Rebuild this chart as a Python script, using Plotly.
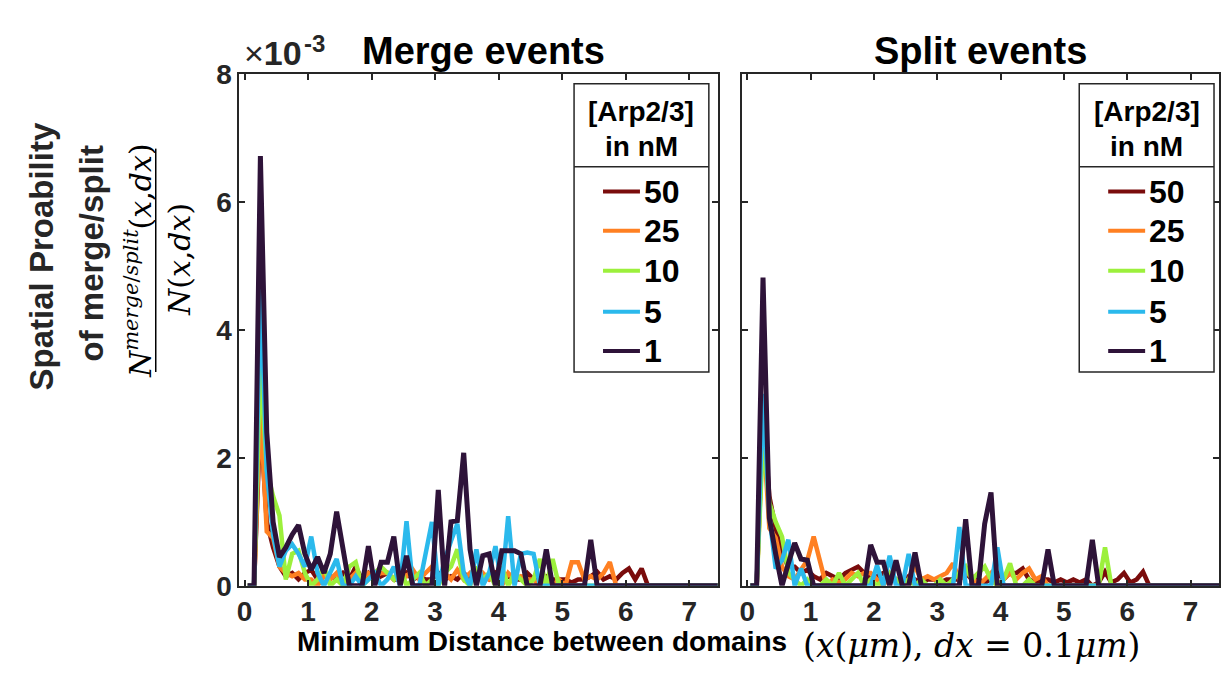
import numpy as np
import plotly.graph_objects as go

W, H = 1225, 682

# ---------------- data (probabilities in units of 1e-3) ----------------
# bin centres of the minimum distance, dx = 0.1 um
distance_um = np.round(0.05 + 0.1 * np.arange(75), 2)

concentrations = ["50", "25", "10", "5", "1"]          # [Arp2/3] in nM
colors = ["#7A0C0C", "#FF8022", "#9CF03C", "#2BB9EC", "#2E1339"]

merge_50nM = [0, 0, 2.6, 1.0, 0.6, 0.3, 0.15, 0.2, 0.1, 0.2,
              0.25, 0.1, 0.2, 0.15, 0.1, 0.2, 0.1, 0.3, 0.1, 0.2,
              0.1, 0.15, 0.2, 0.1, 0.1, 0.2, 0.1, 0.15, 0.1, 0.1,
              0.2, 0.1, 0.15, 0.1, 0.2, 0.1, 0.1, 0.15, 0.1, 0.2,
              0.1, 0.15, 0.1, 0.1, 0.2, 0.1, 0.1, 0.15, 0.1, 0.1,
              0.1, 0.05, 0.1, 0.1, 0.15, 0.22, 0.1, 0.15, 0.1, 0.2,
              0.27, 0.1, 0.27, 0, 0, 0, 0, 0, 0, 0,
              0, 0, 0, 0, 0]
merge_25nM = [0, 0, 2.8, 0.85, 0.75, 0.3, 0.2, 0.15, 0.2, 0.1,
              0.1, 0, 0.15, 0.1, 0.2, 0, 0.1, 0.2, 0.1, 0.2,
              0.15, 0.2, 0.2, 0.1, 0.2, 0.15, 0.25, 0.1, 0.2, 0.3,
              0.15, 0.2, 0.1, 0.25, 0.1, 0.2, 0.1, 0.2, 0.1, 0.15,
              0, 0.2, 0.1, 0.15, 0.1, 0.1, 0, 0.1, 0, 0.1,
              0, 0.37, 0.37, 0.1, 0.15, 0.1, 0.2, 0.37, 0, 0,
              0, 0, 0, 0, 0, 0, 0, 0, 0, 0,
              0, 0, 0, 0, 0]
merge_10nM = [0, 0, 3.5, 1.8, 1.4, 1.1, 0.1, 0.5, 0.55, 0.2,
              0, 0.1, 0.3, 0, 0.1, 0, 0.3, 0.37, 0, 0.1,
              0.2, 0.3, 0.2, 0.1, 0.3, 0, 0.1, 0.2, 0, 0.1,
              0, 0.2, 0.3, 0.57, 0.1, 0, 0.3, 0.1, 0.2, 0,
              0.3, 0, 0.2, 0.1, 0, 0.1, 0.42, 0, 0.42, 0,
              0, 0, 0, 0, 0, 0, 0, 0, 0, 0,
              0, 0, 0, 0, 0, 0, 0, 0, 0, 0,
              0, 0, 0, 0, 0]
merge_5nM = [0, 0, 4.7, 1.8, 0.8, 0.3, 0.55, 0.65, 0.5, 0.3,
             0.77, 0.2, 0, 0.2, 0.42, 0, 0, 0.15, 0, 0.1,
             0.2, 0, 0.1, 0.3, 0, 1.01, 0, 0, 0.5, 1.0,
             0, 0.4, 0.7, 0.97, 0.2, 0, 0.57, 0, 0.2, 0.62,
             0, 1.09, 0, 0.5, 0.52, 0.5, 0, 0, 0, 0,
             0, 0, 0, 0, 0, 0, 0, 0, 0, 0,
             0, 0, 0, 0, 0, 0, 0, 0, 0, 0,
             0, 0, 0, 0, 0]
merge_1nM = [0, 0, 6.72, 2.4, 1.0, 0.45, 0.6, 0.8, 0.95, 0.5,
             0.25, 0.45, 0.2, 0.5, 1.16, 0.6, 0, 0, 0, 0.62,
             0, 0.37, 0.37, 0.77, 0, 0.47, 0, 0, 0, 0,
             1.5, 0, 1.0, 1.02, 2.08, 0.57, 0, 0.47, 0.5, 0,
             0.55, 0.55, 0.55, 0.5, 0, 0, 0, 0.57, 0, 0,
             0, 0, 0, 0, 0.72, 0, 0, 0, 0, 0,
             0, 0, 0, 0, 0, 0, 0, 0, 0, 0,
             0, 0, 0, 0, 0]

split_50nM = [0, 0, 2.7, 1.4, 0.9, 0.5, 0.3, 0.3, 0.2, 0.25,
              0.15, 0.1, 0.2, 0.15, 0.1, 0.2, 0.25, 0.3, 0.2, 0.1,
              0.15, 0.2, 0.1, 0.1, 0.05, 0.15, 0.1, 0.05, 0.1, 0.1,
              0.05, 0.1, 0.1, 0.1, 0.2, 0.1, 0.1, 0.05, 0.1, 0.2,
              0.1, 0.2, 0.2, 0.27, 0.1, 0.05, 0.1, 0.1, 0.05, 0.1,
              0.05, 0.1, 0.05, 0.1, 0, 0.05, 0.22, 0.05, 0.1, 0.2,
              0.05, 0.1, 0.22, 0, 0, 0, 0, 0, 0, 0,
              0, 0, 0, 0, 0]
split_25nM = [0, 0, 2.5, 0.9, 0.75, 0.3, 0.15, 0.1, 0.25, 0.4,
              0.77, 0.4, 0, 0.1, 0.05, 0.1, 0.2, 0.15, 0.2, 0.2,
              0.1, 0, 0.2, 0.1, 0.05, 0.1, 0.3, 0.1, 0.15, 0.1,
              0.15, 0.2, 0.35, 0.1, 0.2, 0.15, 0, 0.1, 0.2, 0,
              0.1, 0.2, 0.1, 0.2, 0.27, 0.1, 0.15, 0, 0, 0,
              0, 0, 0, 0, 0, 0, 0, 0, 0, 0,
              0, 0, 0, 0, 0, 0, 0, 0, 0, 0,
              0, 0, 0, 0, 0]
split_10nM = [0, 0, 2.3, 1.3, 1.0, 0.77, 0.2, 0.1, 0, 0.1,
              0, 0, 0.1, 0, 0.2, 0, 0.1, 0.2, 0, 0.1,
              0, 0.1, 0.2, 0.1, 0, 0.1, 0, 0.1, 0, 0,
              0.1, 0, 0.1, 0.2, 0.3, 0.1, 0.2, 0.3, 0.1, 0,
              0.1, 0.35, 0, 0, 0.1, 0, 0, 0, 0, 0,
              0, 0, 0, 0, 0, 0, 0.6, 0, 0, 0,
              0, 0, 0, 0, 0, 0, 0, 0, 0, 0,
              0, 0, 0, 0, 0]
split_5nM = [0, 0, 3.0, 1.1, 0.27, 0.4, 0.72, 0, 0.27, 0,
             0, 0, 0, 0, 0, 0, 0, 0, 0, 0,
             0.32, 0, 0.47, 0, 0, 0.5, 0, 0, 0, 0,
             0, 0, 0, 0.92, 0, 0, 0, 0, 0, 0.6,
             0, 0, 0, 0, 0, 0, 0, 0, 0, 0,
             0, 0, 0, 0, 0, 0, 0, 0, 0, 0,
             0, 0, 0, 0, 0, 0, 0, 0, 0, 0,
             0, 0, 0, 0, 0]
split_1nM = [0, 0, 4.82, 1.06, 0.5, 0, 0.35, 0.67, 0.42, 0.4,
             0, 0, 0, 0, 0, 0, 0, 0, 0, 0.64,
             0.37, 0.37, 0, 0.4, 0, 0, 0.52, 0, 0, 0,
             0, 0, 0, 0, 1.04, 0, 0, 0.97, 1.46, 0,
             0, 0, 0, 0, 0, 0, 0, 0.57, 0, 0,
             0, 0, 0, 0, 0.72, 0, 0, 0, 0, 0,
             0, 0, 0, 0, 0, 0, 0, 0, 0, 0,
             0, 0, 0, 0, 0]

merge_series = [merge_50nM, merge_25nM, merge_10nM, merge_5nM, merge_1nM]
split_series = [split_50nM, split_25nM, split_10nM, split_5nM, split_1nM]

x_ticks = [0, 1, 2, 3, 4, 5, 6, 7]
y_ticks = [0, 2, 4, 6, 8]

# ---------------- figure ----------------
def px(x):
    return x / W

def py(y):
    return 1 - y / H

fig = go.Figure()
for panel, series in (("", merge_series), ("2", split_series)):
    for conc, col, vals in zip(concentrations, colors, series):
        fig.add_trace(go.Scatter(
            x=distance_um, y=vals, mode="lines", name=conc,
            line=dict(color=col, width=5 if conc == "1" else 4.5),
            xaxis="x" + panel, yaxis="y" + panel, showlegend=False))

AX = "#262626"
FONT = "Liberation Sans"
SERIF = "DejaVu Serif"
tickfont = dict(family=FONT, size=28, color=AX, weight="bold")
common_x = dict(range=[-0.085, 7.45], tickvals=x_ticks, ticks="inside", ticklen=6,
                tickwidth=1.5, tickcolor=AX, showline=True, linecolor=AX, linewidth=1.5,
                mirror="ticks", showgrid=False, zeroline=False, tickfont=tickfont,
                ticklabelstandoff=0)
common_y = dict(range=[0, 8], tickvals=y_ticks, ticks="inside", ticklen=6,
                tickwidth=1.5, tickcolor=AX, showline=True, linecolor=AX, linewidth=1.5,
                mirror="ticks", showgrid=False, zeroline=False, tickfont=tickfont,
                domain=[py(598), py(62)])

fig.update_layout(
    width=W, height=H, margin=dict(l=0, r=0, t=0, b=0),
    paper_bgcolor="white", plot_bgcolor="white", showlegend=False,
    xaxis=dict(common_x, domain=[px(237.5), px(717)], anchor="y"),
    yaxis=dict(common_y, anchor="x", ticklabelstandoff=0),
    xaxis2=dict(common_x, domain=[px(741), px(1219)], anchor="y2"),
    yaxis2=dict(common_y, anchor="x2", showticklabels=False),
)

ann = []
shapes = []
# panel titles
ann.append(dict(x=px(240), y=py(40), xref="paper", yref="paper", xanchor="left", yanchor="middle",
                text="×<b>10</b>", showarrow=False,
                font=dict(family=FONT, size=34, color=AX)))
ann.append(dict(x=px(300), y=py(30), xref="paper", yref="paper", xanchor="left", yanchor="middle",
                text="<b>-3</b>", showarrow=False,
                font=dict(family=FONT, size=24, color=AX)))
ann.append(dict(x=px(482), y=py(38), xref="paper", yref="paper", xanchor="center", yanchor="middle",
                text="<b>Merge events</b>", showarrow=False,
                font=dict(family=FONT, size=38, color="black")))
ann.append(dict(x=px(980), y=py(38), xref="paper", yref="paper", xanchor="center", yanchor="middle",
                text="<b>Split events</b>", showarrow=False,
                font=dict(family=FONT, size=38, color="black")))
# x-axis title
ann.append(dict(x=px(788), y=py(656), xref="paper", yref="paper", xanchor="right", yanchor="middle",
                text="<b>Minimum Distance between domains</b>", showarrow=False,
                font=dict(family=FONT, size=28, color="black")))
ann.append(dict(x=px(800), y=py(660), xref="paper", yref="paper", xanchor="left", yanchor="middle",
                text="(<i>x</i>(<i>μm</i>), <i>dx</i> = 0.1<i>μm</i>)", showarrow=False,
                font=dict(family=SERIF, size=33, color="black")))
# y-axis title
ann.append(dict(x=px(40), y=py(253), xref="paper", yref="paper", xanchor="center", yanchor="middle",
                text="<b>Spatial Proability</b>", textangle=-90, showarrow=False,
                font=dict(family=FONT, size=33, color=AX)))
ann.append(dict(x=px(90), y=py(250), xref="paper", yref="paper", xanchor="center", yanchor="middle",
                text="<b>of merge/split</b>", textangle=-90, showarrow=False,
                font=dict(family=FONT, size=33, color=AX)))
ann.append(dict(x=px(137), y=py(257), xref="paper", yref="paper", xanchor="center", yanchor="middle",
                text="<i>N</i><sup><i>merge</i>/<i>split</i></sup>(<i>x</i>,<i>dx</i>)", textangle=-90,
                showarrow=False, font=dict(family=SERIF, size=30, color="black")))
shapes.append(dict(type="line", xref="paper", yref="paper", x0=px(154), x1=px(154),
                   y0=py(140), y1=py(374), line=dict(color="black", width=1.5)))
ann.append(dict(x=px(178), y=py(256), xref="paper", yref="paper", xanchor="center", yanchor="middle",
                text="<i>N</i>(<i>x</i>,<i>dx</i>)", textangle=-90,
                showarrow=False, font=dict(family=SERIF, size=30, color="black")))

# boxed legends (one per panel)
entry_y = [185, 226, 268, 311, 352]
for left in (573, 1079):
    right = left + 135
    shapes.append(dict(type="rect", xref="paper", yref="paper", x0=px(left), x1=px(right),
                       y0=py(374), y1=py(72), line=dict(color=AX, width=1.5), fillcolor="white",
                       layer="above"))
    shapes.append(dict(type="line", xref="paper", yref="paper", x0=px(left), x1=px(right),
                       y0=py(159), y1=py(159), line=dict(color=AX, width=1.5), layer="above"))
    ann.append(dict(x=px((left + right) / 2), y=py(101), xref="paper", yref="paper",
                    xanchor="center", yanchor="middle", text="<b>[Arp2/3]</b>",
                    showarrow=False, font=dict(family=FONT, size=28, color="black")))
    ann.append(dict(x=px((left + right) / 2), y=py(138), xref="paper", yref="paper",
                    xanchor="center", yanchor="middle", text="<b>in nM</b>",
                    showarrow=False, font=dict(family=FONT, size=28, color="black")))
    for conc, col, yy in zip(concentrations, colors, entry_y):
        shapes.append(dict(type="line", xref="paper", yref="paper", x0=px(left + 29),
                           x1=px(left + 66), y0=py(yy), y1=py(yy),
                           line=dict(color=col, width=4), layer="above"))
        ann.append(dict(x=px(left + 68), y=py(yy), xref="paper", yref="paper",
                        xanchor="left", yanchor="middle", text="<b>" + conc + "</b>",
                        showarrow=False, font=dict(family=FONT, size=32, color="black")))

fig.update_layout(annotations=ann, shapes=shapes)
fig.write_html("out.html")
